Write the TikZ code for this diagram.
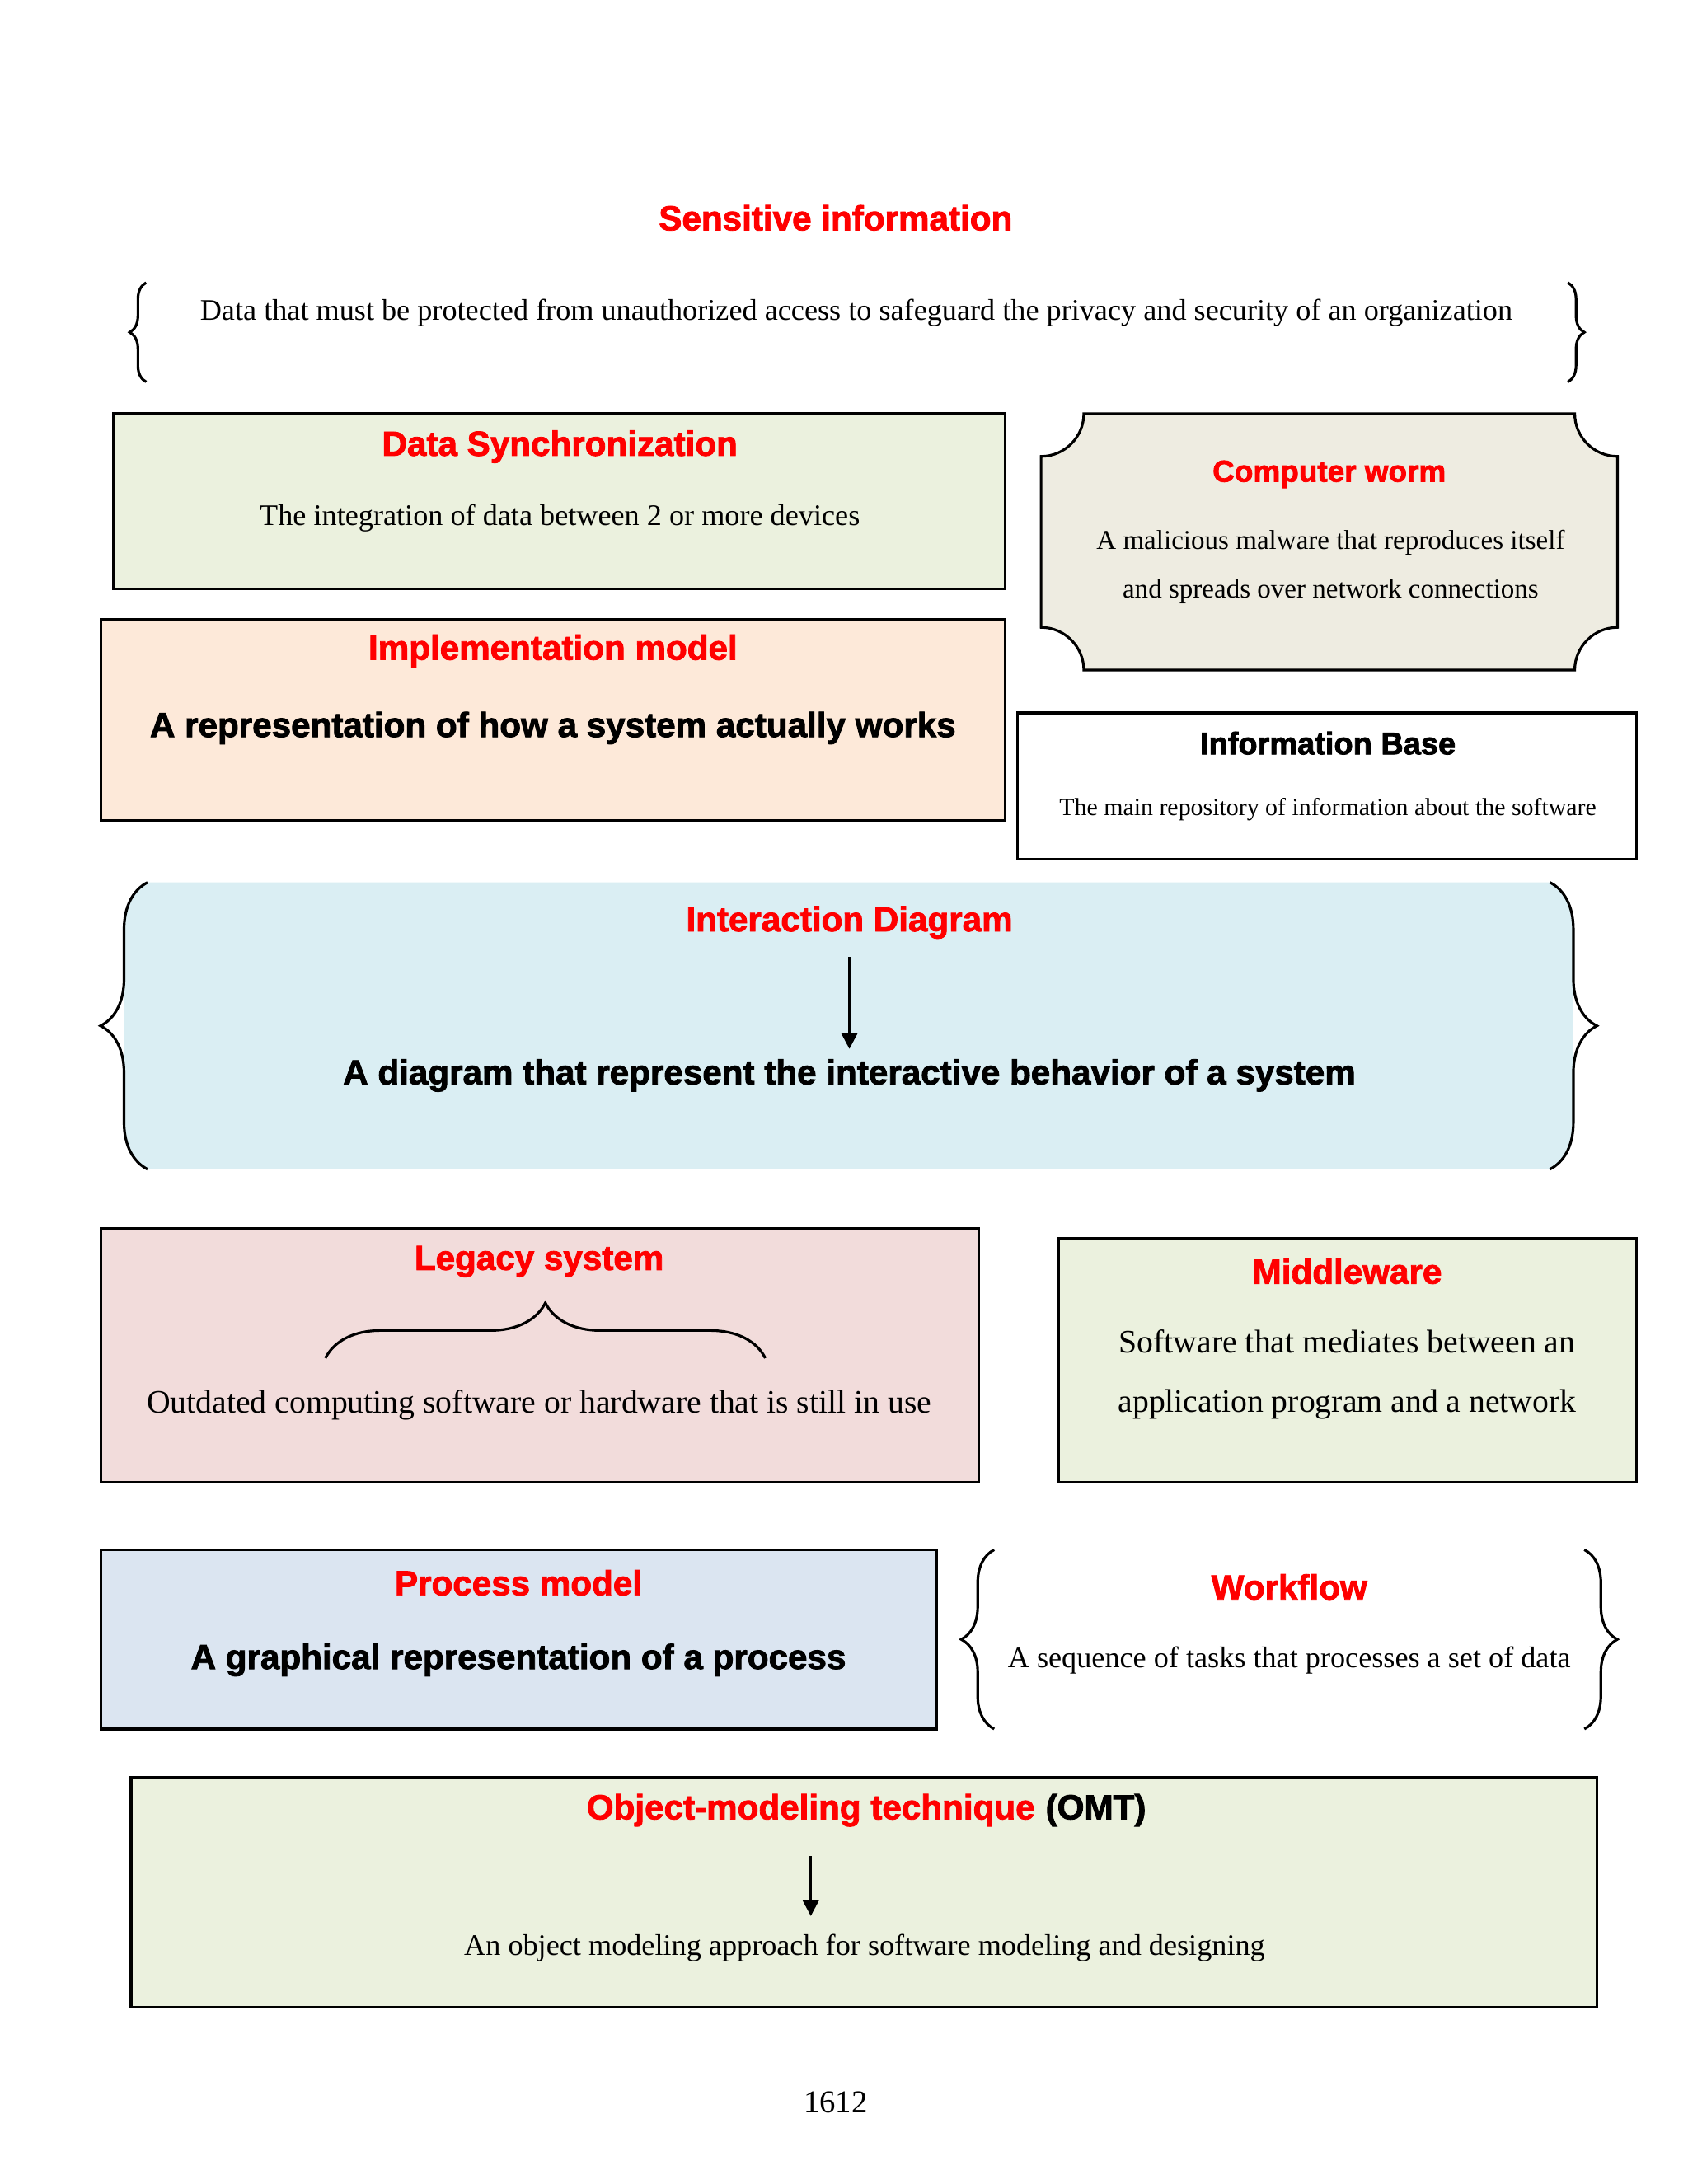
\documentclass[tikz,border=0pt]{standalone}
\usepackage{fontspec}
\setmainfont{Liberation Serif}
\setsansfont{Liberation Sans}[BoldFeatures={FakeBold=2}]
\usetikzlibrary{arrows.meta,decorations.pathreplacing,positioning}
\definecolor{headred}{HTML}{FF0000}
\definecolor{olivefill}{HTML}{EBF1DE}
\definecolor{tanfill}{HTML}{EEECE1}
\definecolor{peachfill}{HTML}{FDE9D9}
\definecolor{aquafill}{HTML}{DAEEF3}
\definecolor{rosefill}{HTML}{F2DCDB}
\definecolor{bluefill}{HTML}{DBE5F1}
\tikzset{
  box/.style={draw=black, line width=0.9pt},
  head/.style={text=headred, font=\sffamily\bfseries\fontsize{#1}{14}\selectfont},
  head/.default=12,
  bolddesc/.style={font=\sffamily\bfseries\fontsize{#1}{14}\selectfont},
  bolddesc/.default=12,
  desc/.style 2 args={font=\fontsize{#1}{#2}\selectfont, align=center},
  curly/.style={decorate, decoration={brace, amplitude=#1}, line width=0.9pt},
  arr/.style={-{Triangle[length=0.19cm,width=0.19cm]}, line width=1pt}
}
\begin{document}
\begin{tikzpicture}[x=0.01673cm, y=-0.01673cm]
\useasboundingbox[fill=white] (0,0) rectangle (1224,1584);
%%%% Sensitive information
\node[head] (sensTitle) at (606,158) {Sensitive information};
\node[desc={10.3}{12}] (sensText) at (621,227) {Data that must be protected from unauthorized access to safeguard the privacy and security of an organization};
\draw[curly=0.2cm] (106,277) -- (106,205);
\draw[curly=0.2cm] (1137,205) -- (1137,277);

%%%% Data Synchronization
\draw[box, fill=olivefill] (82,300) rectangle (729,427);
\node[head] (syncTitle) at (406,324) {Data Synchronization};
\node[desc={10.3}{12}] (syncText) at (406,376) {The integration of data between 2 or more devices};

%%%% Computer worm (scooped corners)
\draw[box, fill=tanfill] (786,300) -- (1142,300)
  .. controls (1142,317) and (1156,331) .. (1173,331) -- (1173,455)
  .. controls (1156,455) and (1142,469) .. (1142,486) -- (786,486)
  .. controls (786,469) and (772,455) .. (755,455) -- (755,331)
  .. controls (772,331) and (786,317) .. (786,300) -- cycle;
\node[head=10.5] (wormTitle) at (964,344) {Computer worm};
\node[desc={9.4}{16.7}] (wormText) at (965,411) {A malicious malware that reproduces itself\\and spreads over network connections};

%%%% Implementation model
\draw[box, fill=peachfill] (73,449) rectangle (729,595);
\node[head] (implTitle) at (401,472) {Implementation model};
\node[bolddesc] (implText) at (401,528) {A representation of how a system actually works};

%%%% Information Base
\draw[box, fill=white] (738,517) rectangle (1187,623);
\node[bolddesc=10.8] (infoTitle) at (963,539) {Information Base};
\node[desc={8.5}{10}] (infoText) at (963,587) {The main repository of information about the software};

%%%% Interaction Diagram
\fill[aquafill] (107,640) -- (1124,640)
  .. controls (1134.2,645.1) and (1141,657) .. (1141,674) -- (1141,814)
  .. controls (1141,831) and (1134.2,842.9) .. (1124,848) -- (107,848)
  .. controls (96.8,842.9) and (90,831) .. (90,814) -- (90,674)
  .. controls (90,657) and (96.8,645.1) .. (107,640) -- cycle;
\draw[curly=0.57cm] (107,848) -- (107,640);
\draw[curly=0.57cm] (1124,640) -- (1124,848);
\node[head] (intTitle) at (616,669) {Interaction Diagram};
\node[bolddesc] (intText) at (616,780) {A diagram that represent the interactive behavior of a system};
\draw[arr, shorten <=0.1cm] (intTitle) -- (intText);

%%%% Legacy system
\draw[box, fill=rosefill] (73,891) rectangle (710,1075);
\node[head] (legTitle) at (391,915) {Legacy system};
\draw[curly=0.67cm] (236,985) -- (555,985);
\node[desc={11.3}{13}] (legText) at (391,1019) {Outdated computing software or hardware that is still in use};

%%%% Middleware
\draw[box, fill=olivefill] (768,898) rectangle (1187,1075);
\node[head] (midTitle) at (977,922) {Middleware};
\node[desc={11.3}{20.5}] (midText) at (977,997) {Software that mediates between an\\application program and a network};

%%%% Process model
\draw[box, fill=bluefill] (73,1124) rectangle (679,1254);
\node[head] (procTitle) at (376,1148) {Process model};
\node[bolddesc] (procText) at (376,1204) {A graphical representation of a process};

%%%% Workflow
\draw[curly=0.4cm] (721,1254) -- (721,1124);
\draw[curly=0.4cm] (1149,1124) -- (1149,1254);
\node[head] (wfTitle) at (935,1151) {Workflow};
\node[desc={10.3}{12}] (wfText) at (935,1204) {A sequence of tasks that processes a set of data};

%%%% Object-modeling technique
\draw[box, fill=olivefill] (95,1289) rectangle (1158,1456);
\node[head, inner sep=0pt] (omtTitle) at (588,1313) {Object-modeling technique};
\node[bolddesc, inner sep=0pt, anchor=base west] (omtAbbr) at ([xshift=3.3pt]omtTitle.base east) {(OMT)};
\node[desc={10.3}{12}] (omtText) at (627,1413) {An object modeling approach for software modeling and designing};
\draw[arr, shorten <=0.35cm, shorten >=0.1cm] (omtTitle.south) -- (omtTitle.south |- omtText.north);

%%%% Page number
\node[desc={11}{13}] (pageNum) at (606,1525) {1612};
\end{tikzpicture}
\end{document}
